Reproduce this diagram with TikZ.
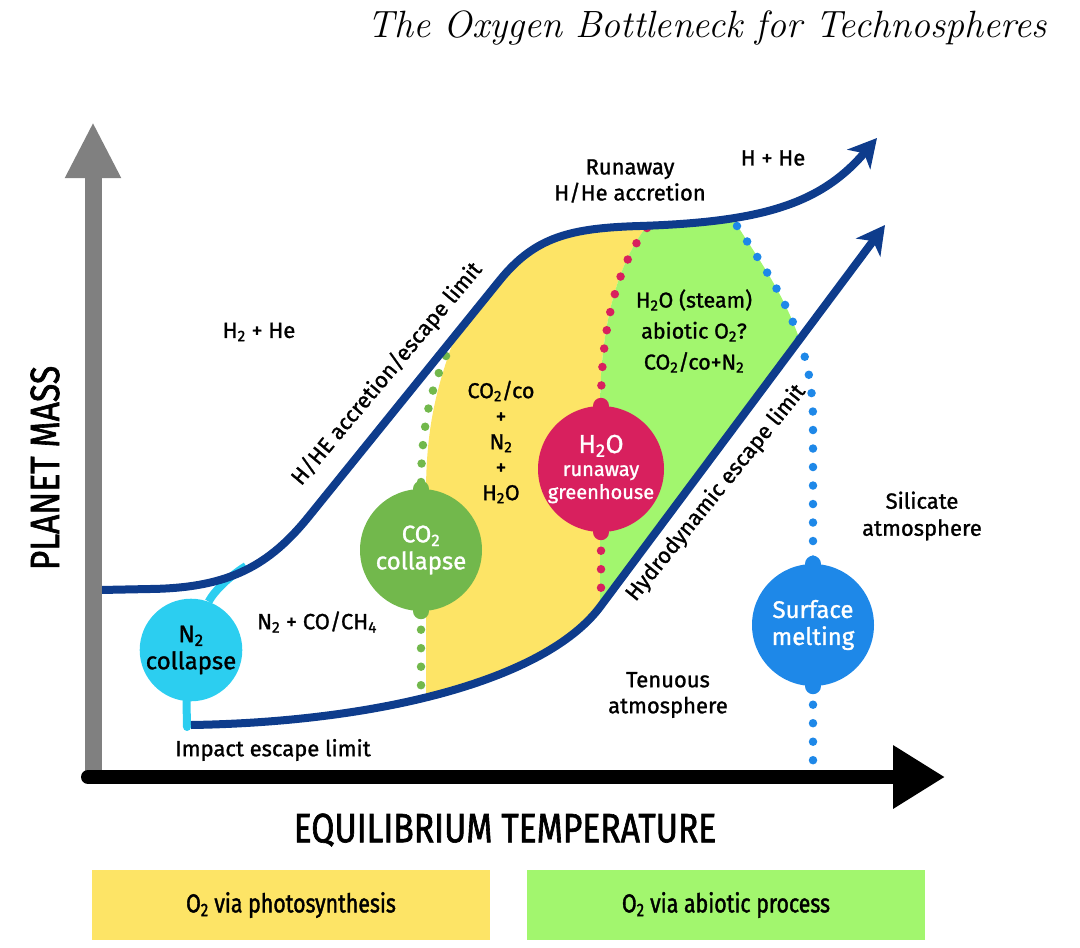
\documentclass[tikz,border=0pt]{standalone}
\usepackage{fontspec}
\newfontfamily\fira[FakeBold=1.2]{Fira Sans}
\newfontfamily\firacond[FakeStretch=0.82,FakeBold=1.5]{Fira Sans}
\usetikzlibrary{arrows.meta}
\definecolor{navy}{RGB}{14,60,140}
\definecolor{yel}{RGB}{253,228,102}
\definecolor{grn}{RGB}{162,246,110}
\definecolor{cyanc}{RGB}{44,206,240}
\definecolor{co2g}{RGB}{114,184,76}
\definecolor{redc}{RGB}{216,32,94}
\definecolor{bluec}{RGB}{30,136,232}
\definecolor{axgray}{RGB}{128,128,128}
\tikzset{
  navyline/.style={draw=navy, line width=8pt},
  navyhead/.style={-{Stealth[length=28pt,width=30pt,inset=8pt]}},
  dotline/.style={line width=8.5pt, line cap=round, dash pattern=on 0pt off 18.5pt},
  bubble/.style={circle, inner sep=0pt, minimum size=#1, align=center,
    font=\fira\fontsize{24}{27}\selectfont},
  txt/.style={font=\fira\fontsize{22}{26}\selectfont, align=center, inner sep=0pt},
  legbox/.style={minimum width=398pt, minimum height=70pt, inner sep=0pt,
    font=\firacond\fontsize{26}{26}\selectfont},
}
\begin{document}
\begin{tikzpicture}[x=1pt,y=-1pt]
\useasboundingbox (0,0) rectangle (1080,948);

% coloured regions between the two limits
\begin{scope}
\clip (100,590) -- (150,589) .. controls (230,588) and (270,565) .. (310,515)
  -- (500,280) .. controls (535,237) and (570,228) .. (640,226)
  .. controls (760,222) and (820,205) .. (877,138) -- (885,225) -- (600,607)
  .. controls (545,680) and (380,722) .. (187,725) -- cycle;
\fill[yel] (426,760) -- (426,493) .. controls (426,430) and (436,390) .. (452,345)
  -- (470,150) -- (660,150) -- (647,226) .. controls (620,260) and (600,320) .. (600,410)
  -- (600,760) -- cycle;
\fill[grn] (600,760) -- (600,410) .. controls (600,320) and (620,260) .. (647,226)
  -- (650,150) -- (735,150) -- (737,225) .. controls (765,270) and (813,330) .. (813,420)
  -- (813,760) -- cycle;
\end{scope}

% bubbles
\node[bubble=96pt, fill=cyanc, text=black] (n2) at (191,650) {N\textsubscript{2}\\collapse};
\node[bubble=122pt, fill=co2g, text=white] (co2) at (421,550) {CO\textsubscript{2}\\collapse};
\node[bubble=124pt, fill=redc, text=white, font=\fira\fontsize{20}{23}\selectfont] (h2o) at (601,469)
  {{\fontsize{26}{26}\selectfont H\textsubscript{2}O}\\runaway\\greenhouse};
\node[bubble=122pt, fill=bluec, text=white] (surf) at (813,625) {Surface\\melting};

% anchor points on the curves / axis
\coordinate (gtop) at (446,356);
\coordinate (gbot) at (421,700);
\coordinate (rtop) at (647,228);
\coordinate (rbot) at (601,598);
\coordinate (btop) at (737,226);
\coordinate (bbot) at (813,770);
\coordinate (cup) at (246,566);
\coordinate (cdown) at (187,727);

% dotted boundaries
\draw[dotline, draw=co2g] (gtop) .. controls (430,390) and (421,430) .. (co2.north);
\draw[dotline, draw=co2g] (co2.south) -- (gbot);
\draw[dotline, draw=redc] (rtop) .. controls (620,262) and (601,320) .. (h2o.north);
\draw[dotline, draw=redc] (h2o.south) -- (rbot);
\draw[dotline, draw=bluec] (btop) .. controls (765,270) and (813,330) .. (813,420) -- (surf.north);
\draw[dotline, draw=bluec] (surf.south) -- (bbot);

% nubs on the bubbles
\fill[co2g] (co2.north) circle[radius=8pt] (co2.south) circle[radius=8pt];
\fill[redc] (h2o.north) circle[radius=8pt] (h2o.south) circle[radius=8pt];
\fill[bluec] (surf.north) circle[radius=8pt] (surf.south) circle[radius=8pt];

% cyan connectors
\draw[cyanc, line width=8pt] (n2.70) .. controls (215,590) and (230,576) .. (cup);
\draw[cyanc, line width=8pt, line cap=round] (n2.265) -- (cdown);

% limit curves
\draw[navyline, navyhead] (100,590) -- (150,589) .. controls (230,588) and (270,565) .. (310,515)
  -- (500,280) .. controls (535,237) and (570,228) .. (640,226)
  .. controls (760,222) and (820,205) .. (877,138);
\draw[navyline, navyhead] (191,725) .. controls (380,722) and (545,680) .. (600,607) -- (885,225);

% axes
\draw[axgray, line width=17pt, -{Triangle[length=56pt,width=52pt]}] (93,778) -- (93,122);
\draw[black, line width=14pt, line cap=round, -{Triangle[length=52pt,width=60pt]}] (88,777) -- (945,777);

% texts
\node[font=\itshape\fontsize{38}{38}\selectfont, inner sep=0pt] (title) at (707,28) {The Oxygen Bottleneck for Technospheres};
\node[font=\firacond\fontsize{41}{41}\selectfont, inner sep=0pt] (xlab) at (505,830) {EQUILIBRIUM TEMPERATURE};
\node[font=\firacond\fontsize{41}{41}\selectfont, inner sep=0pt, rotate=90] (ylab) at (45,468) {PLANET MASS};

\node[txt] (h2he) at (259,332) {H\textsubscript{2} + He};
\node[txt] (n2co) at (317,622) {N\textsubscript{2} + CO/CH\textsubscript{4}};
\node[txt] (impact) at (273,750) {Impact escape limit};
\node[txt] (runaway) at (630,181) {Runaway\\H/He accretion};
\node[txt] (hhe) at (773,158) {H + He};
\node[txt, font=\fira\fontsize{21.5}{25.5}\selectfont] (mix) at (501,442) {CO\textsubscript{2}/co\\+\\N\textsubscript{2}\\+\\H\textsubscript{2}O};
\node[txt, font=\fira\fontsize{21.5}{31}\selectfont] (steam) at (694,331) {H\textsubscript{2}O (steam)\\abiotic O\textsubscript{2}?\\CO\textsubscript{2}/co+N\textsubscript{2}};
\node[txt] (tenuous) at (668,695) {Tenuous\\atmosphere};
\node[txt, font=\fira\fontsize{22}{27}\selectfont] (silicate) at (922,516) {Silicate\\atmosphere};
\node[txt, rotate=50] (hhelim) at (387,374) {H/HE accretion/escape limit};
\node[txt, rotate=51] (hydro) at (716,493) {Hydrodynamic escape limit};

% legend
\node[legbox, fill=yel] (leg1) at (291,905) {O\textsubscript{2} via photosynthesis};
\node[legbox, fill=grn] (leg2) at (726,905) {O\textsubscript{2} via abiotic process};
\end{tikzpicture}
\end{document}
